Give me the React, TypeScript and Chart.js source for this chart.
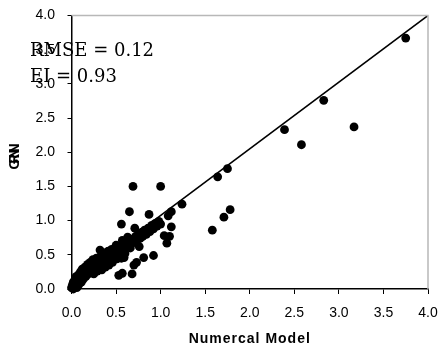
import React, { useEffect, useRef } from "react";
import { Chart, registerables } from "chart.js";

Chart.register(...registerables);

// ---- data ----
const numericalModel = [
  0.0, 0.01, 0.02, 0.02, 0.03, 0.04, 0.05, 0.05, 0.06, 0.07, 0.08, 0.08, 0.09, 0.1, 0.11, 0.12, 0.12, 0.13, 0.14, 0.15,
  0.16, 0.17, 0.18, 0.19, 0.2, 0.21, 0.22, 0.23, 0.24, 0.25, 0.26, 0.27, 0.28, 0.29, 0.3, 0.31, 0.32, 0.33, 0.34, 0.35,
  0.36, 0.37, 0.38, 0.39, 0.4, 0.41, 0.42, 0.43, 0.44, 0.45, 0.46, 0.47, 0.48, 0.5, 0.51, 0.52, 0.53, 0.55, 0.56, 0.58,
  0.59, 0.6, 0.62, 0.63, 0.65, 0.66, 0.68, 0.7, 0.72, 0.73, 0.75, 0.77, 0.79, 0.8, 0.82, 0.84, 0.86, 0.88, 0.9, 0.92,
  0.94, 0.96, 0.98, 1.0, 0.57, 0.63, 0.5,
  0.53, 0.57, 0.68, 0.7, 0.73, 0.56, 0.59, 0.76, 0.81, 0.92, 0.41, 0.52, 0.66,
  0.56, 0.65, 0.69, 1.0, 0.71, 0.87, 1.085, 1.12, 1.24, 1.12, 1.04, 1.1, 1.07,
  1.58, 1.64, 1.71, 1.75, 1.78, 2.39, 2.58, 2.83, 3.17, 3.75,
];
const grnn = [
  0.02, 0.06, 0.0, 0.1, 0.04, 0.14, 0.08, 0.18, 0.02, 0.12, 0.21, 0.06, 0.16, 0.25, 0.1, 0.2, 0.29, 0.14, 0.24, 0.32,
  0.18, 0.28, 0.36, 0.22, 0.31, 0.39, 0.26, 0.35, 0.43, 0.22, 0.38, 0.3, 0.45, 0.26, 0.4, 0.34, 0.57, 0.47, 0.28, 0.42,
  0.36, 0.5, 0.32, 0.45, 0.4, 0.55, 0.35, 0.5, 0.44, 0.58, 0.39, 0.53, 0.47, 0.6, 0.44, 0.56, 0.5, 0.63, 0.54, 0.66,
  0.58, 0.52, 0.68, 0.61, 0.71, 0.64, 0.73, 0.68, 0.77, 0.7, 0.8, 0.74, 0.83, 0.77, 0.86, 0.8, 0.89, 0.84, 0.93, 0.88,
  0.96, 0.92, 0.99, 0.95, 0.71, 0.76, 0.64,
  0.2, 0.23, 0.22, 0.35, 0.39, 0.45, 0.46, 0.62, 0.46, 0.49, 0.55, 0.56, 0.6,
  0.95, 1.13, 1.5, 1.5, 0.89, 1.09, 1.07, 1.13, 1.24, 0.91, 0.78, 0.77, 0.67,
  0.86, 1.64, 1.05, 1.76, 1.16, 2.33, 2.11, 2.76, 2.37, 3.67,
];
const fitX = [0, 4];
const fitY = [0.1, 4.0];
const axisTicks = [0, 0.5, 1.0, 1.5, 2.0, 2.5, 3.0, 3.5, 4.0];
const statLines = ["RMSE = 0.12", "EI = 0.93"];
const xTitle = "Numercal Model";
const yTitle = "GRNN";

const overlay = {
  id: "overlay",
  afterDraw(chart: any) {
    const ctx = chart.ctx as CanvasRenderingContext2D;
    const { left, right, top, bottom } = chart.chartArea;
    ctx.save();
    // gray frame top & right
    ctx.strokeStyle = "#b8b8b8";
    ctx.lineWidth = 1.5;
    ctx.beginPath();
    ctx.moveTo(left, top);
    ctx.lineTo(right, top);
    ctx.lineTo(right, bottom);
    ctx.stroke();
    // x title
    ctx.fillStyle = "#000";
    ctx.font = "bold 14px 'Liberation Sans', Arial, sans-serif";
    (ctx as any).letterSpacing = "1px";
    ctx.textAlign = "center";
    ctx.textBaseline = "middle";
    ctx.fillText(xTitle, (left + right) / 2, 339);
    // y title
    ctx.save();
    ctx.translate(15, 159);
    ctx.rotate(-Math.PI / 2);
    (ctx as any).letterSpacing = "-5px";
    ctx.fillText(yTitle, 0, 0);
    ctx.restore();
    // stats
    (ctx as any).letterSpacing = "0px";
    ctx.font = "18px 'DejaVu Serif', serif";
    ctx.textAlign = "left";
    ctx.textBaseline = "alphabetic";
    ctx.fillText(statLines[0], 30, 56);
    ctx.fillText(statLines[1], 30, 82);
    ctx.restore();
  },
};

export default function App() {
  const ref = useRef<HTMLCanvasElement | null>(null);
  useEffect(() => {
    if (!ref.current) return;
    const tickFont = { family: "'Liberation Sans', Arial, sans-serif", size: 14 };
    const fmt = (v: any) => Number(v).toFixed(1);
    const chart = new Chart(ref.current, {
      type: "scatter",
      data: {
        datasets: [
          {
            type: "line",
            data: fitX.map((x, i) => ({ x, y: fitY[i] })),
            borderColor: "#000",
            borderWidth: 1.6,
            pointRadius: 0,
            fill: false,
          } as any,
          {
            data: numericalModel.map((x, i) => ({ x, y: grnn[i] })),
            backgroundColor: "#000",
            borderWidth: 0,
            pointRadius: 4.4,
            clip: false,
          } as any,
        ],
      },
      options: {
        responsive: false,
        animation: false,
        layout: { padding: { top: 15.5, right: 13, left: 0, bottom: 0 } },
        plugins: { legend: { display: false }, tooltip: { enabled: false } },
        scales: {
          x: {
            type: "linear",
            min: 0,
            max: 4,
            afterBuildTicks: (s: any) => {
              s.ticks = axisTicks.map((value) => ({ value }));
            },
            afterFit: (s: any) => {
              s.height = 63;
              s.paddingLeft = 0;
              s.paddingRight = 0;
            },
            ticks: { callback: fmt, font: tickFont, color: "#000", padding: 11, maxRotation: 0, autoSkip: false },
            grid: { drawOnChartArea: false, drawTicks: true, tickLength: 5, color: "#000", lineWidth: 1 },
            border: { color: "#000", width: 1.5 },
          },
          y: {
            type: "linear",
            min: 0,
            max: 4,
            afterBuildTicks: (s: any) => {
              s.ticks = axisTicks.map((value) => ({ value }));
            },
            afterFit: (s: any) => {
              s.width = 71.5;
              s.paddingTop = 0;
              s.paddingBottom = 0;
            },
            ticks: { callback: fmt, font: tickFont, color: "#000", padding: 12.5, autoSkip: false },
            grid: { drawOnChartArea: false, drawTicks: true, tickLength: 4, color: "#000", lineWidth: 1 },
            border: { color: "#000", width: 1.5 },
          },
        },
      },
      plugins: [overlay],
    });
    return () => chart.destroy();
  }, []);
  return (
    <div style={{ position: "absolute", left: 0, top: 0, width: 441, height: 352, background: "#fff" }}>
      <canvas ref={ref} width={441} height={352} />
    </div>
  );
}
